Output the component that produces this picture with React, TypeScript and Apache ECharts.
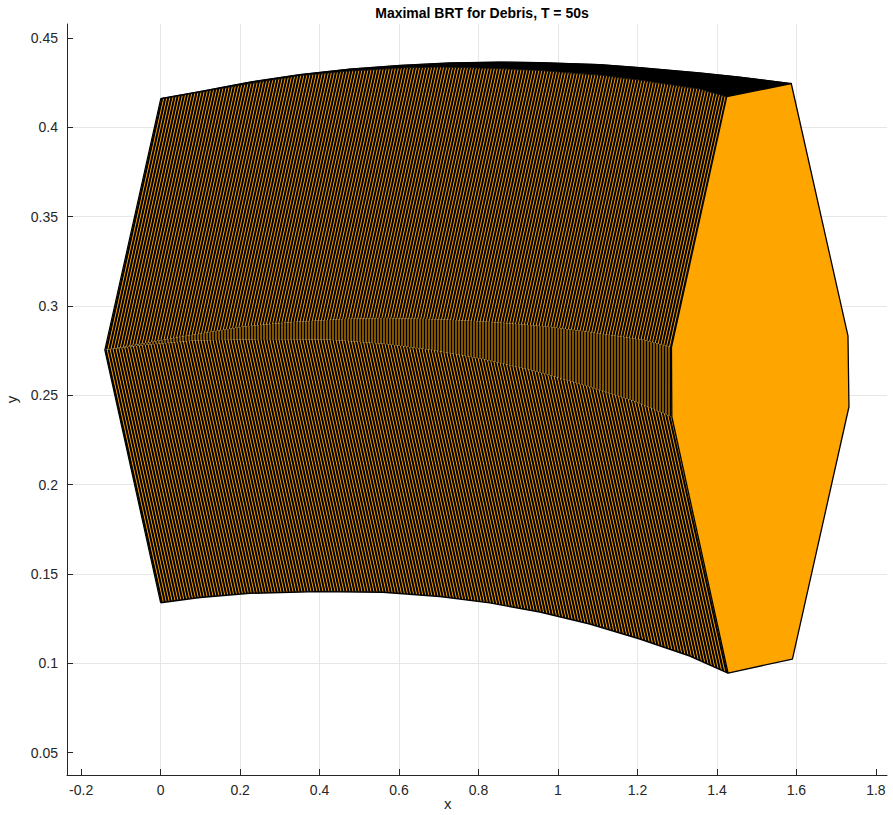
import React, { useEffect, useRef } from 'react';
import * as echarts from 'echarts';

// ---------- data ----------
const titleText = 'Maximal BRT for Debris, T = 50s';
const xName = 'x';
const yName = 'y';
const xRange = [-0.2357, 1.828];
const yRange = [0.0375, 0.4578];
const xTicks = [-0.2, 0, 0.2, 0.4, 0.6, 0.8, 1, 1.2, 1.4, 1.6, 1.8];
const yTicks = [0.05, 0.1, 0.15, 0.2, 0.25, 0.3, 0.35, 0.4, 0.45];

// final BRT polygon (largest time step), vertices clockwise from top-left
const finalPolygon: number[][] = [
  [1.4247, 0.4171],
  [1.587, 0.4245],
  [1.7298, 0.2832],
  [1.7323, 0.2436],
  [1.59, 0.1024],
  [1.428, 0.0945],
  [1.2865, 0.238],
  [1.2855, 0.2769],
];

// outer top boundary of the swept tube (top edges envelope)
const topEnvelope: number[][] = [
  [0, 0.4161], [0.0989, 0.42], [0.2247, 0.4253], [0.3504, 0.4295],
  [0.4762, 0.4326], [0.6021, 0.4346], [0.7279, 0.436], [0.8535, 0.4365],
  [0.9542, 0.4362], [1.1051, 0.4351], [1.2058, 0.4334], [1.3567, 0.4304],
  [1.4573, 0.4281], [1.587, 0.4245],
];

// trajectory of the top-left vertex
const topLeftPath: number[][] = [
  [0, 0.4158], [0.0989, 0.4197], [0.2247, 0.4245], [0.3504, 0.429],
  [0.4762, 0.4315], [0.6021, 0.4332], [0.7026, 0.4337], [0.8535, 0.4329],
  [0.9542, 0.4318], [1.1051, 0.4292], [1.2058, 0.4264], [1.3567, 0.4214],
  [1.4247, 0.4171],
];

// trajectory of the upper left vertex
const leftUpperPath: number[][] = [
  [-0.1405, 0.2753], [-0.0416, 0.2792], [0.0842, 0.284], [0.2099, 0.2885],
  [0.3357, 0.291], [0.4616, 0.2927], [0.5621, 0.2932], [0.713, 0.2924],
  [0.8137, 0.2913], [0.9646, 0.2887], [1.0653, 0.2859], [1.2162, 0.2809],
  [1.2855, 0.2769],
];

// trajectory of the lower left vertex
const leftLowerPath: number[][] = [
  [-0.1405, 0.2753], [-0.0416, 0.2782], [0.0842, 0.2806], [0.2527, 0.2815],
  [0.4187, 0.2812], [0.5621, 0.2788], [0.6879, 0.2752], [0.8137, 0.2702],
  [0.9395, 0.2638], [1.0653, 0.2558], [1.1911, 0.2468], [1.2865, 0.238],
];

// trajectory of the bottom-left vertex
const bottomLeftPath: number[][] = [
  [0, 0.1339], [0.0989, 0.1368], [0.2247, 0.1392], [0.3932, 0.1401],
  [0.5592, 0.1398], [0.7026, 0.1374], [0.8284, 0.1338], [0.9542, 0.1287],
  [1.08, 0.122], [1.2058, 0.1136], [1.3316, 0.1041], [1.428, 0.0945],
];

// ---------- styles ----------
const ORANGE = '#FFA500';
const AXIS = '#262626';
const GRID = '#e6e6e6';
const FONT = '"Liberation Sans", Arial, Helvetica, sans-serif';

function stripeTile(shift: number, lw: number, off: number): HTMLCanvasElement {
  const period = 3;
  const h = shift === 0 ? 3 : 27;
  const c = document.createElement('canvas');
  c.width = period;
  c.height = h;
  const ctx = c.getContext('2d') as CanvasRenderingContext2D;
  ctx.fillStyle = ORANGE;
  ctx.fillRect(0, 0, period, h);
  ctx.fillStyle = '#000';
  for (let k = -14; k <= 14; k++) {
    const x0 = k * period + off;
    ctx.beginPath();
    ctx.moveTo(x0, 0);
    ctx.lineTo(x0 + lw, 0);
    ctx.lineTo(x0 + lw + shift, h);
    ctx.lineTo(x0 + shift, h);
    ctx.closePath();
    ctx.fill();
  }
  return c;
}

const rev = (a: number[][]) => [...a].reverse();

function polySeries(pts: number[][], style: any, z: number, type = 'polygon') {
  return {
    type: 'custom',
    coordinateSystem: 'cartesian2d',
    silent: true,
    z,
    clip: true,
    data: [pts[0]],
    renderItem: (_p: any, api: any) => ({
      type,
      shape: { points: pts.map((p) => api.coord(p)) },
      style,
    }),
  };
}

export default function App() {
  const ref = useRef<HTMLDivElement>(null);
  useEffect(() => {
    if (!ref.current) return;
    const chart = echarts.init(ref.current, null, { renderer: 'svg' });

    const patUp = { image: stripeTile(-6, 2.05, 0), repeat: 'repeat' };
    const patMid = { image: stripeTile(0, 2.0, 0.5), repeat: 'repeat' };
    const patLow = { image: stripeTile(6, 2.05, 0), repeat: 'repeat' };

    const upperRegion = [...topLeftPath, ...rev(leftUpperPath)];
    const middleRegion = [...leftUpperPath, ...rev(leftLowerPath)];
    const lowerRegion = [...leftLowerPath, ...rev(bottomLeftPath)];
    const blackBand = [...topEnvelope, ...rev(topLeftPath)];
    const leftOutline = [topLeftPath[0], leftUpperPath[0], bottomLeftPath[0]];

    chart.setOption({
      animation: false,
      backgroundColor: '#fff',
      title: {
        text: titleText,
        left: 477,
        textAlign: 'center',
        top: 1,
        textStyle: { fontFamily: FONT, fontSize: 14, fontWeight: 'bold', color: '#000' },
      },
      grid: { left: 67, right: 6, top: 24, bottom: 40, containLabel: false, outerBoundsMode: 'none' },
      graphic: [
        {
          type: 'text',
          left: 444,
          top: 796,
          silent: true,
          style: { text: xName, fontFamily: FONT, fontSize: 15, fill: AXIS },
        },
      ],
      xAxis: {
        type: 'value',
        min: xRange[0],
        max: xRange[1],
        splitNumber: 10,
        axisLine: { onZero: false, lineStyle: { color: AXIS, width: 1 } },
        axisTick: { show: true, inside: true, length: 6, customValues: xTicks, lineStyle: { color: AXIS } },
        axisLabel: {
          customValues: xTicks,
          margin: 8,
          fontFamily: FONT,
          fontSize: 14,
          color: AXIS,
        },
        splitLine: { show: true, showMinLine: false, showMaxLine: false, lineStyle: { color: GRID, width: 1 } },
      },
      yAxis: {
        type: 'value',
        min: yRange[0],
        max: yRange[1],
        splitNumber: 8,
        name: yName,
        nameLocation: 'middle',
        nameGap: 48,
        nameRotate: 90,
        nameTextStyle: { fontFamily: FONT, fontSize: 15, color: AXIS },
        axisLine: { onZero: false, lineStyle: { color: AXIS, width: 1 } },
        axisTick: { show: true, inside: true, length: 6, customValues: yTicks, lineStyle: { color: AXIS } },
        axisLabel: {
          customValues: yTicks,
          margin: 9,
          fontFamily: FONT,
          fontSize: 14,
          color: AXIS,
        },
        splitLine: { show: true, showMinLine: false, showMaxLine: false, lineStyle: { color: GRID, width: 1 } },
      },
      series: [
        polySeries(upperRegion, { fill: patUp, stroke: 'none' }, 2),
        polySeries(middleRegion, { fill: patMid, stroke: 'none' }, 2),
        polySeries(lowerRegion, { fill: patLow, stroke: 'none' }, 2),
        polySeries(blackBand, { fill: '#000', stroke: '#000', lineWidth: 0.8 }, 3),
        polySeries(leftOutline, { fill: 'none', stroke: '#000', lineWidth: 1.2 }, 4, 'polyline'),
        polySeries(bottomLeftPath, { fill: 'none', stroke: '#000', lineWidth: 1.4 }, 4, 'polyline'),
        polySeries(topEnvelope, { fill: 'none', stroke: '#000', lineWidth: 1.2 }, 4, 'polyline'),
        polySeries(finalPolygon, { fill: ORANGE, stroke: '#000', lineWidth: 1.3, lineJoin: 'round' }, 5),
      ],
    });
    return () => chart.dispose();
  }, []);
  return <div ref={ref} style={{ width: 893, height: 815, position: 'absolute', left: 0, top: 0 }} />;
}
